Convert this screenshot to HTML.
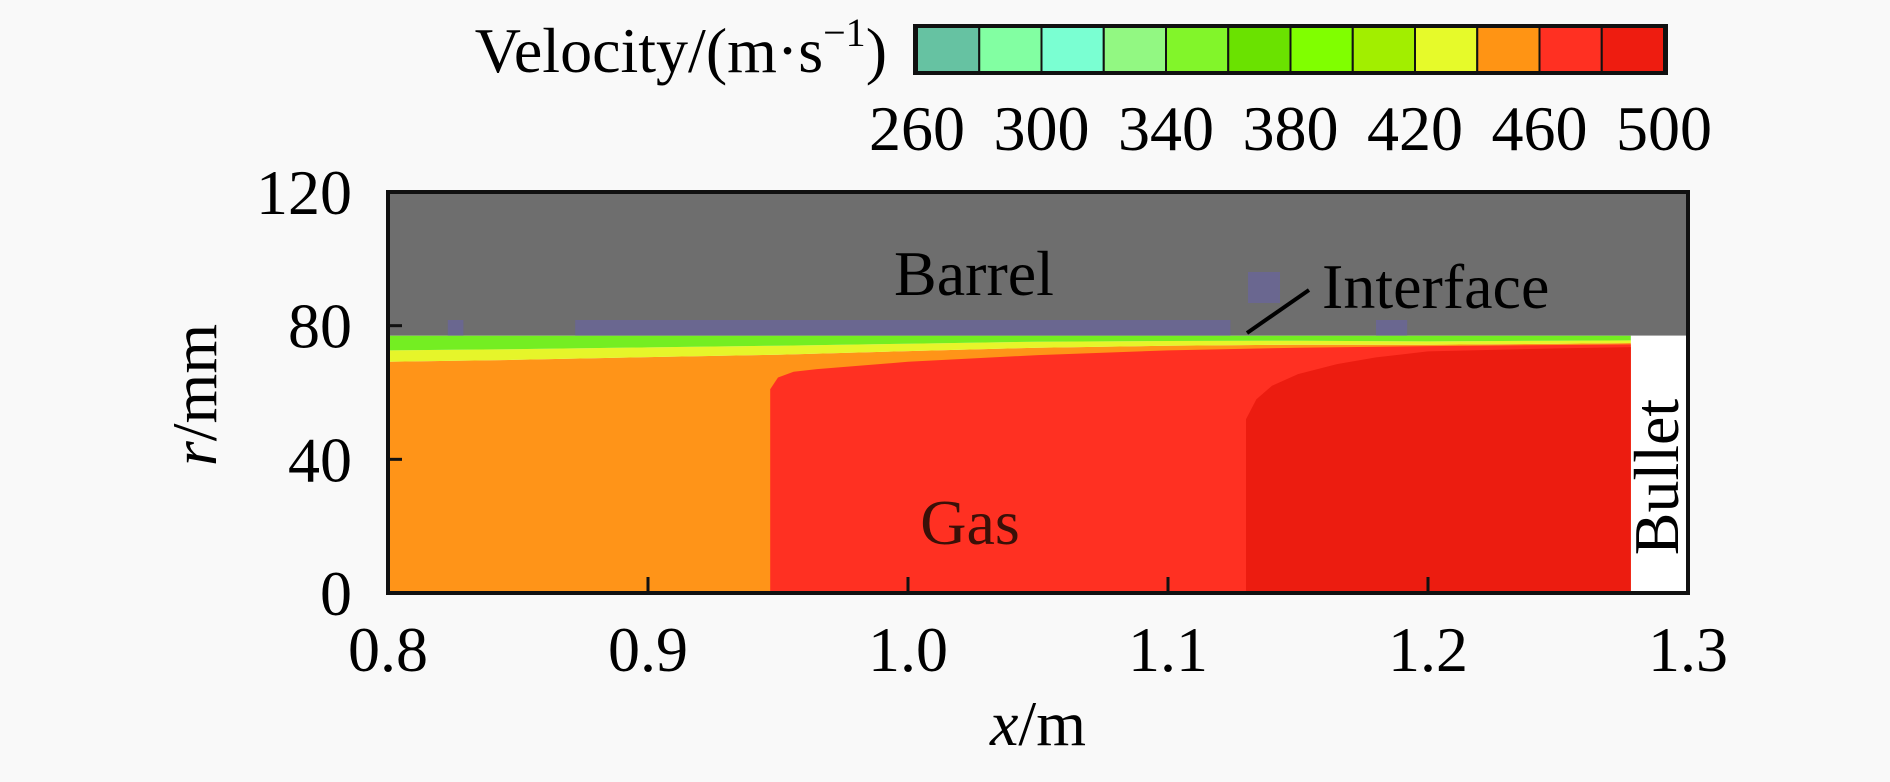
<!DOCTYPE html>
<html><head><meta charset="utf-8"><style>
html,body{margin:0;padding:0;background:#f9f9f9;}
body{position:relative;}
svg{display:block;font-family:"Liberation Serif",serif;}
</style></head><body>
<svg id="chart" width="1890" height="782" viewBox="0 0 1890 782" xmlns="http://www.w3.org/2000/svg">
<rect x="0" y="0" width="1890" height="782" fill="#f9f9f9"/>
<g id="plot"></g>
<g id="cbar"></g>
</svg>
<script>
// ---- data ----
const xTicks = [0.8, 0.9, 1.0, 1.1, 1.2, 1.3];
const xTickLabels = ["0.8", "0.9", "1.0", "1.1", "1.2", "1.3"];
const yTicks = [0, 40, 80, 120];
const yTickLabels = ["0", "40", "80", "120"];
const wallR = 77;          // mm, barrel inner wall
const interfaceTop = 81.7; // mm
const bulletX = 1.278;     // m
const interfaceSegX0 = [0.823, 0.872, 1.180];
const interfaceSegX1 = [0.829, 1.124, 1.192];
const blX = [0.8, 0.85, 0.9, 0.95, 1.0, 1.05, 1.1, 1.15, 1.2, 1.25, 1.278];
const greenBottom = [72.6, 73.0, 73.5, 74.0, 74.6, 75.2, 75.4, 75.5, 75.3, 75.5, 75.6];
const yellowBottom = [69.2, 69.8, 70.6, 71.3, 72.4, 73.4, 74.0, 74.3, 74.3, 74.6, 74.8];
const redX = [0.947, 0.947, 0.950, 0.956, 0.965, 1.0, 1.05, 1.1, 1.15, 1.2, 1.25, 1.278];
const redTop = [0, 61, 64.5, 66.2, 67, 69.2, 71.2, 72.6, 73.4, 73.9, 74.2, 74.4];
const darkX = [1.13, 1.13, 1.134, 1.14, 1.15, 1.165, 1.18, 1.2, 1.25, 1.278];
const darkTop = [0, 52, 58, 62, 65.5, 68.5, 70.5, 72.3, 73.2, 73.6];
const cbTicks = [260, 300, 340, 380, 420, 460, 500];
const cbLevels = [260, 280, 300, 320, 340, 360, 380, 400, 420, 440, 460, 480, 500];
const cbColors = ["#66c2a2", "#82ffa2", "#7affd2", "#92f882", "#82f52a", "#6ae200", "#80ff00", "#a2ee00", "#e6fa2a", "#ff9414", "#ff3022", "#ee1c10"];

// ---- scales ----
const X0 = 388, X1 = 1688, Y0 = 593, Y1 = 192;
const sx = v => X0 + (v - 0.8) / 0.5 * (X1 - X0);
const sy = v => Y0 - v / 120 * (Y0 - Y1);
const CB0 = 917, CB1 = 1664;
const cx = v => CB0 + (v - 260) / 240 * (CB1 - CB0);

const NS = "http://www.w3.org/2000/svg";
function mk(tag, attrs, parent) {
  const e = document.createElementNS(NS, tag);
  for (const k in attrs) e.setAttribute(k, attrs[k]);
  parent.appendChild(e);
  return e;
}
const plot = document.getElementById('plot');
const cbar = document.getElementById('cbar');

let r = mk('rect', {x: X0, y: Y1, width: X1 - X0, height: sy(wallR) - Y1, fill: '#6e6e6e'}, plot);


for (let i = 0; i < interfaceSegX0.length; i++) {
  const e = mk('rect', {x: sx(interfaceSegX0[i]), y: sy(interfaceTop), width: sx(interfaceSegX1[i]) - sx(interfaceSegX0[i]), height: sy(wallR) - sy(interfaceTop), fill: '#6a6790'}, plot);
  
  
}
const sq = mk('rect', {x: 1248, y: 272, width: 32, height: 31, fill: '#6a6790'}, plot);


const bl = mk('rect', {x: sx(bulletX), y: sy(wallR), width: X1 - sx(bulletX), height: Y0 - sy(wallR), fill: '#ffffff'}, plot);



function band(xs, tops, bottoms, fill, name) {
  let d = '';
  xs.forEach((x, i) => { d += (i ? 'L' : 'M') + sx(x).toFixed(1) + ',' + sy(tops[i]).toFixed(1); });
  for (let i = xs.length - 1; i >= 0; i--) d += 'L' + sx(xs[i]).toFixed(1) + ',' + sy(bottoms[i]).toFixed(1);
  const p = mk('path', {d: d + 'Z', fill: fill}, plot);
  
  
}
const wallArr = blX.map(() => wallR);
const zeroArr = blX.map(() => 0);
band(blX, yellowBottom, zeroArr, '#ff9418', 'orange-velocity-region');
band(blX, greenBottom, yellowBottom, '#e6f52a', 'yellow-boundary-layer');
band(blX, wallArr, greenBottom, '#74ee22', 'green-boundary-layer');
function region(xs, tops, fill, name) {
  let d = '';
  xs.forEach((x, i) => { d += (i ? 'L' : 'M') + sx(x).toFixed(1) + ',' + sy(tops[i]).toFixed(1); });
  d += 'L' + sx(xs[xs.length - 1]).toFixed(1) + ',' + sy(0) + 'Z';
  const p = mk('path', {d: d, fill: fill}, plot);
  
  
}
region(redX, redTop, '#ff3022', 'red-velocity-region');
region(darkX, darkTop, '#ec1c10', 'dark-red-velocity-region');

const fr = mk('rect', {x: X0, y: Y1, width: X1 - X0, height: Y0 - Y1, fill: 'none', stroke: '#111', 'stroke-width': 4}, plot);



xTicks.forEach((v, i) => {
  const t = mk('line', {x1: sx(v), x2: sx(v), y1: Y0, y2: Y0 - 16, stroke: '#111', 'stroke-width': 3}, plot);
  
  
  const l = mk('text', {x: sx(v), y: Y0 + 78, 'font-size': 64, 'text-anchor': 'middle', fill: '#000'}, plot);
  l.textContent = xTickLabels[i];
  
  
});
yTicks.forEach((v, i) => {
  const t = mk('line', {x1: X0, x2: X0 + 14, y1: sy(v), y2: sy(v), stroke: '#111', 'stroke-width': 3}, plot);
  
  
  const l = mk('text', {x: 352, y: sy(v) + 22, 'font-size': 64, 'text-anchor': 'end', fill: '#000'}, plot);
  l.textContent = yTickLabels[i];
  
  
});

for (let i = 0; i < cbColors.length; i++) {
  const x0 = cx(cbLevels[i]), x1 = Math.min(cx(cbLevels[i + 1]), CB1);
  const c = mk('rect', {x: x0, y: 27, width: x1 - x0, height: 45, fill: cbColors[i], stroke: '#111', 'stroke-width': 2}, cbar);
  
  
}
const cbf = mk('rect', {x: CB0 - 2, y: 26, width: CB1 - CB0 + 4, height: 47, fill: 'none', stroke: '#111', 'stroke-width': 4}, cbar);


cbTicks.forEach(v => {
  const l = mk('text', {x: cx(v), y: 150, 'font-size': 64, 'text-anchor': 'middle', fill: '#000'}, cbar);
  l.textContent = String(v);
  
  
});
</script>
<svg style="position:absolute;left:0;top:0" width="1890" height="782">
<g font-family="Liberation Serif, serif" fill="#000">
<text x="887" y="72" font-size="64" text-anchor="end">Velocity/(m·s<tspan font-size="40" dy="-26">−1</tspan><tspan dy="26">)</tspan></text>
<text x="974" y="295" font-size="64" text-anchor="middle">Barrel</text>
<text x="1322" y="308" font-size="64">Interface</text>
<line x1="1247" y1="333" x2="1309" y2="290" stroke="#000" stroke-width="4"/>
<text x="970" y="544" font-size="64" text-anchor="middle" fill="#3a1008">Gas</text>
<text transform="translate(1678,477) rotate(-90)" font-size="64" text-anchor="middle">Bullet</text>
<text x="1038" y="745" font-size="64" text-anchor="middle"><tspan font-style="italic">x</tspan>/m</text>
<text transform="translate(216,395) rotate(-90)" font-size="64" text-anchor="middle"><tspan font-style="italic">r</tspan>/mm</text>
</g>
</svg>
</body></html>
